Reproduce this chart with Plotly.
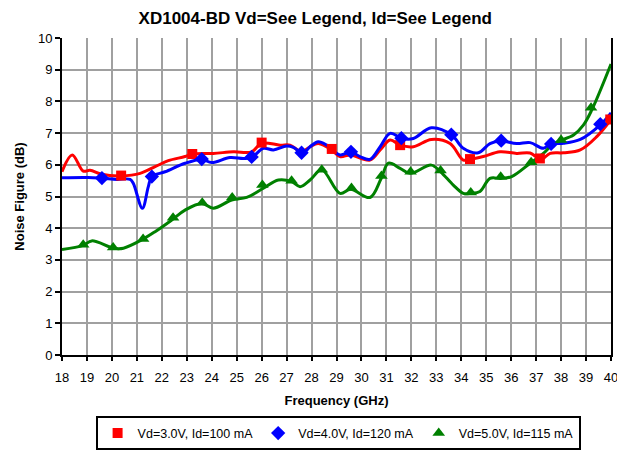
import plotly.graph_objects as go

# Curve traces (frequency GHz, noise figure dB)
red_f = [18.0, 18.41, 18.85, 19.12, 19.59, 20.39, 21.13, 21.73, 22.26, 22.93, 23.22, 24.06, 24.87, 25.6, 26.0,
         26.74, 27.14, 27.6, 27.94, 28.27, 28.81, 29.14, 29.57, 30.34, 30.75, 31.15, 31.55, 32.08, 32.8,
         33.55, 34.08, 34.35, 34.88, 35.55, 36.22, 36.76, 37.19, 37.56, 38.1, 38.77, 39.43, 40.0]
red_nf = [5.78, 6.31, 5.80, 5.83, 5.70, 5.65, 5.73, 5.94, 6.13, 6.26, 6.34, 6.36, 6.41, 6.41, 6.68,
          6.62, 6.62, 6.41, 6.57, 6.67, 6.47, 6.26, 6.31, 6.15, 6.47, 6.78, 6.62, 6.57, 6.80,
          6.67, 6.15, 6.17, 6.26, 6.41, 6.36, 6.37, 6.17, 6.36, 6.38, 6.47, 6.89, 7.43]

blue_f = [18.0, 19.05, 19.66, 20.2, 20.73, 20.86, 21.22, 21.46, 21.6, 22.13, 22.93, 23.6, 24.0, 24.73, 25.27,
          25.6, 26.07, 26.47, 27.0, 27.27, 27.64, 27.94, 28.27, 28.61, 29.14, 29.57, 29.94, 30.34, 30.75,
          31.15, 31.62, 32.08, 32.8, 33.62, 34.08, 34.68, 35.15, 35.58, 36.22, 36.76, 37.29, 37.59, 38.1,
          38.77, 39.57, 40.0]
blue_nf = [5.59, 5.60, 5.57, 5.54, 5.54, 5.41, 4.63, 5.31, 5.63, 5.78, 6.05, 6.17, 6.07, 6.23, 6.20,
           6.23, 6.52, 6.47, 6.59, 6.55, 6.36, 6.57, 6.73, 6.62, 6.31, 6.41, 6.26, 6.17, 6.57,
           6.99, 6.83, 6.83, 7.17, 6.94, 6.52, 6.38, 6.67, 6.75, 6.67, 6.70, 6.52, 6.66, 6.68,
           6.80, 7.26, 7.64]

green_f = [18.0, 18.85, 19.19, 20.06, 20.46, 21.19, 21.73, 22.4, 22.93, 23.6, 24.06, 24.8, 25.4, 26.07,
           26.67, 27.2, 27.54, 27.94, 28.41, 29.14, 29.57, 30.34, 30.79, 31.08, 31.55, 31.95, 32.8,
           33.17, 33.68, 34.08, 34.38, 34.75, 35.15, 35.58, 36.02, 36.76, 37.29, 37.63, 37.96, 38.5,
           38.9, 39.23, 40.0]
green_nf = [3.33, 3.46, 3.60, 3.37, 3.37, 3.63, 3.89, 4.26, 4.57, 4.78, 4.63, 4.89, 4.97, 5.26,
            5.52, 5.47, 5.31, 5.52, 5.84, 5.10, 5.23, 4.97, 5.57, 6.05, 5.89, 5.73, 5.99,
            5.78, 5.36, 5.10, 5.10, 5.16, 5.57, 5.57, 5.63, 6.05, 6.36, 6.62, 6.76, 6.94,
            7.26, 7.73, 9.18]

# Marker positions
red_mf = [20.37, 23.22, 26.0, 28.81, 31.55, 34.35, 37.15, 39.97]
red_mnf = [5.66, 6.34, 6.70, 6.50, 6.62, 6.18, 6.20, 7.43]
blue_mf = [19.6, 21.6, 23.6, 25.6, 27.6, 29.58, 31.6, 33.6, 35.6, 37.6, 39.57]
blue_mnf = [5.58, 5.63, 6.18, 6.25, 6.38, 6.41, 6.84, 6.95, 6.76, 6.66, 7.28]
green_mf = [18.85, 20.05, 21.25, 22.45, 23.62, 24.82, 26.03, 27.2, 28.41, 29.6, 30.8, 31.97,
            33.17, 34.38, 35.58, 36.8, 38.0, 39.2]
green_mnf = [3.48, 3.39, 3.66, 4.33, 4.80, 4.97, 5.36, 5.50, 5.84, 5.27, 5.65, 5.78,
             5.82, 5.13, 5.62, 6.08, 6.78, 7.80]

legend_names = ["Vd=3.0V, Id=100 mA", "Vd=4.0V, Id=120 mA", "Vd=5.0V, Id=115 mA"]
freq_ticks = list(range(18, 41))
nf_ticks = list(range(0, 11))

series = [
    (red_f, red_nf, red_mf, red_mnf, "#ff0000", "square", 10),
    (blue_f, blue_nf, blue_mf, blue_mnf, "#0000ff", "diamond", 11),
    (green_f, green_nf, green_mf, green_mnf, "#008000", "triangle-up", 11),
]

fig = go.Figure()
for (f, nf, mf, mnf, color, sym, sz), name in zip(series, legend_names):
    fig.add_trace(go.Scatter(x=f, y=nf, mode="lines", showlegend=False, hoverinfo="skip",
                             line=dict(color=color, width=3, shape="spline", smoothing=1.0)))
for (f, nf, mf, mnf, color, sym, sz), name in zip(series, legend_names):
    fig.add_trace(go.Scatter(x=mf, y=mnf, mode="markers", name=name,
                             marker=dict(color=color, symbol=sym, size=sz, line=dict(width=0))))

font = "Liberation Sans, Arial, sans-serif"
fig.update_layout(
    width=617, height=443,
    margin=dict(l=54, r=14, t=30, b=96, autoexpand=False),
    paper_bgcolor="white", plot_bgcolor="white",
    font=dict(family=font, size=12, color="black"),
    title=dict(text="<b>XD1004-BD Vd=See Legend, Id=See Legend</b>", x=0.498, xanchor="center",
               y=0.978, yanchor="middle", font=dict(size=17, family=font, color="black")),
    xaxis=dict(range=[18, 40], tickvals=freq_ticks, ticktext=[str(t) for t in freq_ticks],
               showgrid=True, gridcolor="#a0a0a0", gridwidth=2, automargin=False,
               showline=True, linecolor="black", linewidth=2, ticks="outside", ticklen=4,
               tickcolor="black", tickwidth=2, zeroline=False, ticklabelstandoff=5,
               tickfont=dict(size=13),
               title=dict(text="<b>Frequency (GHz)</b>", font=dict(size=13), standoff=12)),
    yaxis=dict(range=[0, 10], tickvals=nf_ticks, ticktext=[str(t) for t in nf_ticks],
               showgrid=True, gridcolor="#a0a0a0", gridwidth=2, automargin=False,
               showline=True, linecolor="black", linewidth=2, mirror=True, ticks="outside", ticklen=5,
               tickcolor="black", tickwidth=2, zeroline=False,
               tickfont=dict(size=13),
               title=dict(text="<b>Noise Figure (dB)</b>", font=dict(size=13), standoff=10)),
    legend=dict(orientation="h", x=0.535, xref="container", xanchor="center",
                y=0.078, yref="container", yanchor="top",
                bordercolor="black", borderwidth=2, font=dict(size=12.5, family=font),
                itemwidth=30, tracegroupgap=0, itemclick=False),
    showlegend=True,
)
fig.write_html("out.html")
